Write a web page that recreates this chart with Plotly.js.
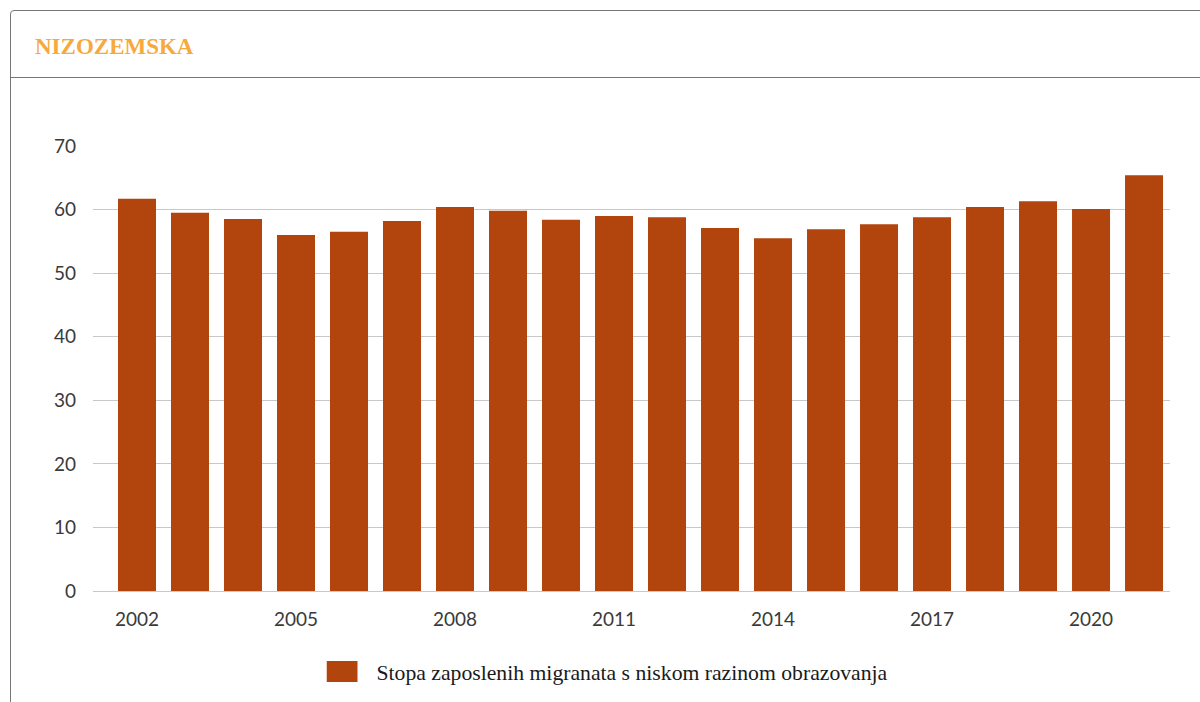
<!DOCTYPE html>
<html>
<head>
<meta charset="utf-8">
<script src="https://cdn.plot.ly/plotly-3.0.1.min.js"></script>
<style>
  html, body { margin:0; padding:0; background:#fff; width:1200px; height:702px; overflow:hidden; }
  #panel { position:absolute; left:10px; top:10px; width:1200px; height:720px; border:1px solid #777; border-radius:4px; box-sizing:border-box; }
  #hline { position:absolute; left:10px; top:77px; width:1190px; height:0; border-top:1px solid #777; }
  #chart { position:absolute; left:0; top:0; width:1200px; height:702px; }
</style>
</head>
<body>
<div id="panel"></div>
<div id="hline"></div>
<div id="chart"></div>
<script>
const years = [2002,2003,2004,2005,2006,2007,2008,2009,2010,2011,2012,2013,2014,2015,2016,2017,2018,2019,2020,2021];
const values = [61.7,59.5,58.5,56.0,56.5,58.2,60.4,59.8,58.4,59.0,58.8,57.1,55.5,56.9,57.7,58.8,60.4,61.3,60.1,65.4];
const seriesName = "Stopa zaposlenih migranata s niskom razinom obrazovanja";
const chartTitle = "NIZOZEMSKA";

const trace = {
  type: 'bar',
  x: years,
  y: values,
  name: seriesName,
  marker: { color: '#B1450D', line: { width: 0 } },
  hoverinfo: 'x+y'
};

const layout = {
  width: 1200, height: 702,
  paper_bgcolor: 'rgba(0,0,0,0)',
  plot_bgcolor: 'rgba(0,0,0,0)',
  margin: { l: 93, r: 30, t: 146, b: 111 },
  bargap: 0.283,
  showlegend: true,
  title: {
    text: chartTitle,
    font: { family: '"Liberation Serif", "Times New Roman", serif', size: 23, color: '#F7A93B', weight: 'bold' },
    x: 35/1200, xref: 'container', xanchor: 'left',
    y: 1 - 46/702, yref: 'container', yanchor: 'middle'
  },
  xaxis: {
    range: [2001.17, 2021.49],
    tickmode: 'linear', tick0: 2002, dtick: 3,
    showgrid: false, zeroline: false, showline: false,
    ticks: '',
    ticklabelstandoff: 15,
    tickfont: { family: 'Lato, sans-serif', size: 19, color: '#3a3a3a' }
  },
  yaxis: {
    range: [0, 70],
    tickmode: 'linear', tick0: 0, dtick: 10,
    showgrid: true, gridcolor: '#c8c8c8', gridwidth: 1,
    zeroline: true, zerolinecolor: '#c8c8c8', zerolinewidth: 1,
    showline: false, ticks: '',
    ticklabelstandoff: 16,
    tickfont: { family: 'Lato, sans-serif', size: 19, color: '#3a3a3a' }
  },
  legend: {
    orientation: 'h',
    x: 610/1200, xref: 'container', xanchor: 'center',
    y: 1 - 672/702, yref: 'container', yanchor: 'middle',
    font: { family: '"Liberation Serif", "Times New Roman", serif', size: 21.7, color: '#1a1a1a' },
    itemwidth: 40
  }
};

Plotly.newPlot('chart', [trace], layout, { displayModeBar: false, staticPlot: true }).then(function(gd) {
  // enlarge the legend swatch to match the reference's wide rectangle
  document.querySelectorAll('.legendpoints path').forEach(function(p) {
    p.setAttribute('d', 'M6,10.5H-25V-10.5H6Z');
  });
});
</script>
</body>
</html>
